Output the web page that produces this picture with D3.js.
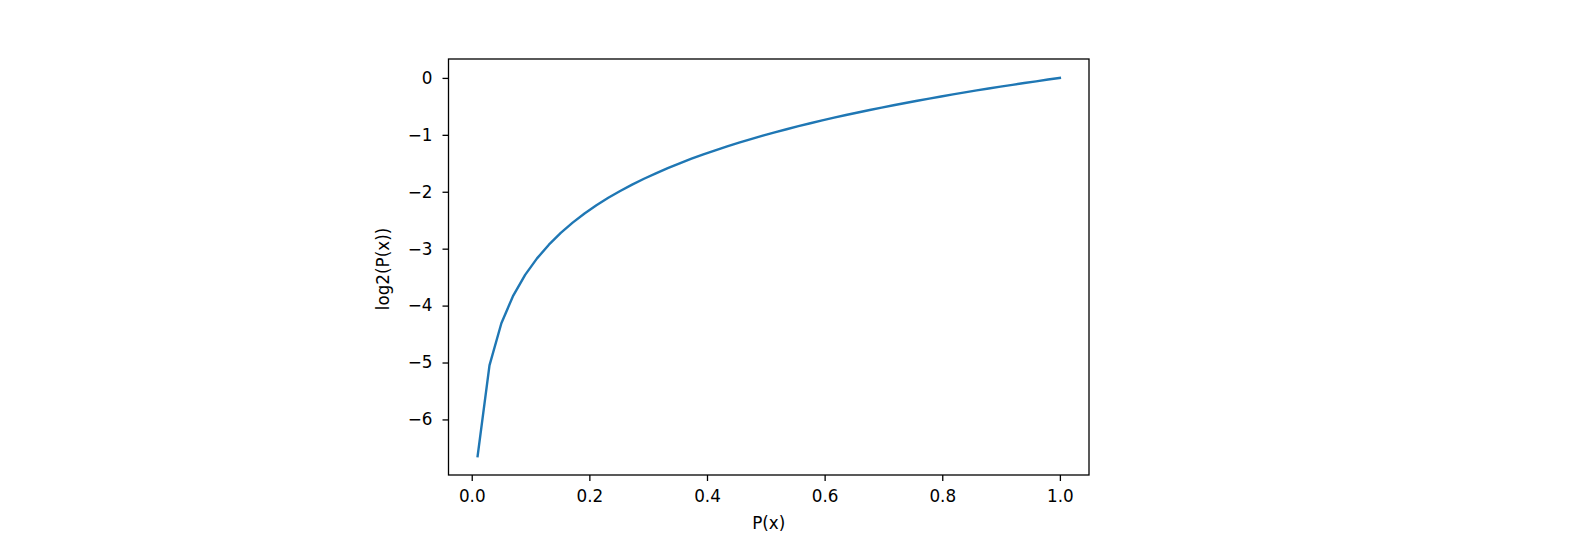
<!DOCTYPE html>
<html>
<head>
<meta charset="utf-8">
<script src="https://cdn.jsdelivr.net/npm/d3@7"></script>
<style>
  body { margin: 0; background: #fff; }
  svg text { font-family: "DejaVu Sans", sans-serif; fill: #000; }
</style>
</head>
<body>
<div id="chart"></div>
<script>
// page size
const width = 1594;
const height = 546;

const margin = { left: 448.5, top: 59, right: 1594 - 1089, bottom: 546 - 475 };

// data: P(x) and log2(P(x))
const px = [0.0100, 0.0302, 0.0504, 0.0706, 0.0908, 0.1110, 0.1312, 0.1514, 0.1716, 0.1918,
            0.2120, 0.2322, 0.2524, 0.2727, 0.2929, 0.3131, 0.3333, 0.3535, 0.3737, 0.3939,
            0.4141, 0.4343, 0.4545, 0.4747, 0.4949, 0.5151, 0.5353, 0.5555, 0.5757, 0.5959,
            0.6161, 0.6363, 0.6565, 0.6767, 0.6969, 0.7171, 0.7373, 0.7576, 0.7778, 0.7980,
            0.8182, 0.8384, 0.8586, 0.8788, 0.8990, 0.9192, 0.9394, 0.9596, 0.9798, 1.0000];
const logp = [-6.644, -5.049, -4.310, -3.824, -3.461, -3.171, -2.930, -2.724, -2.543, -2.382,
              -2.238, -2.106, -1.986, -1.875, -1.772, -1.676, -1.585, -1.500, -1.420, -1.344,
              -1.272, -1.203, -1.138, -1.075, -1.015, -0.957, -0.902, -0.848, -0.797, -0.747,
              -0.699, -0.652, -0.607, -0.563, -0.521, -0.480, -0.440, -0.401, -0.363, -0.326,
              -0.290, -0.254, -0.220, -0.186, -0.154, -0.122, -0.090, -0.060, -0.029, 0.000];

const xTicks = [0.0, 0.2, 0.4, 0.6, 0.8, 1.0];
const yTicks = [0, -1, -2, -3, -4, -5, -6];

const xLabel = "P(x)";
const yLabel = "log2(P(x))";

const svg = d3.select("#chart")
  .append("svg")
  .attr("width", width)
  .attr("height", height);

// matplotlib style 5% margins
const xPad = (d3.max(px) - d3.min(px)) * 0.05;
const yPad = (d3.max(logp) - d3.min(logp)) * 0.05;

const x = d3.scaleLinear()
  .domain([d3.min(px) - xPad, d3.max(px) + xPad])
  .range([margin.left, width - margin.right]);

const y = d3.scaleLinear()
  .domain([d3.min(logp) - yPad, d3.max(logp) + yPad])
  .range([height - margin.bottom, margin.top]);

const fontSize = 16.8;

// x axis
const xAxis = svg.append("g")
  .attr("transform", `translate(0,${height - margin.bottom})`)
  .call(d3.axisBottom(x).tickValues(xTicks).tickFormat(d3.format(".1f")).tickSize(6).tickPadding(9));
xAxis.select(".domain").remove();
xAxis.selectAll("text").style("font-size", fontSize + "px").attr("fill", "#000");
xAxis.selectAll("line").attr("stroke", "#000").attr("stroke-width", 1.3);

// y axis
const yAxis = svg.append("g")
  .attr("transform", `translate(${margin.left},0)`)
  .call(d3.axisLeft(y).tickValues(yTicks).tickFormat(d3.format("d")).tickSize(6).tickPadding(10));
yAxis.select(".domain").remove();
yAxis.selectAll("text").style("font-size", fontSize + "px").attr("fill", "#000");
yAxis.selectAll("line").attr("stroke", "#000").attr("stroke-width", 1.3);

// the curve
const line = d3.line()
  .x((d, i) => x(px[i]))
  .y(d => y(d));

svg.append("path")
  .datum(logp)
  .attr("fill", "none")
  .attr("stroke", "#1f77b4")
  .attr("stroke-width", 2.4)
  .attr("stroke-linejoin", "round")
  .attr("stroke-linecap", "square")
  .attr("d", line);

// frame
svg.append("rect")
  .attr("x", margin.left)
  .attr("y", margin.top)
  .attr("width", width - margin.left - margin.right)
  .attr("height", height - margin.top - margin.bottom)
  .attr("fill", "none")
  .attr("stroke", "#000")
  .attr("stroke-width", 1.3);

// axis labels
svg.append("text")
  .attr("x", (margin.left + width - margin.right) / 2)
  .attr("y", 529)
  .attr("text-anchor", "middle")
  .style("font-size", fontSize + "px")
  .text(xLabel);

svg.append("text")
  .attr("transform", `translate(389,269) rotate(-90)`)
  .attr("text-anchor", "middle")
  .style("font-size", fontSize + "px")
  .text(yLabel);
</script>
</body>
</html>
